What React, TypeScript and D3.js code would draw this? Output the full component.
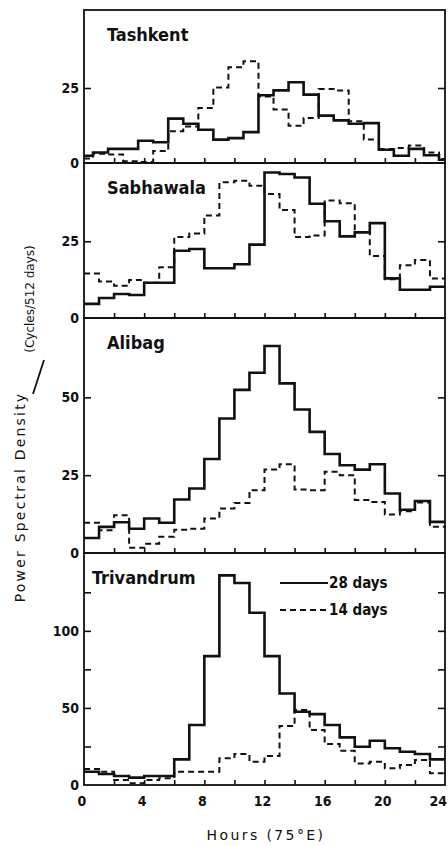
import React, { useEffect, useRef } from 'react'
import * as d3 from 'd3'

const width = 448
const height = 846
const left = 84
const right = 445
const ink = '#111'
const font = "'DejaVu Sans Condensed', 'DejaVu Sans', sans-serif"

// hour axis
const hourLabels = [0, 4, 8, 12, 16, 20, 24]
const hourMinor = d3.range(2, 24, 2)

// Tashkent bins start 0.4 h early (local meridian)
const tashkentShift = -0.4
const tashkent28 = [2.4, 3.5, 4.7, 4.7, 7.4, 6.9, 14.8, 13.1, 11.1, 7.8, 8.3, 10.3, 22.6, 24.2, 26.9, 22.8, 15.8, 14.2, 13.1, 13.3, 4.4, 2.4, 4.7, 2.6, 1.1]
const tashkent14 = [1.5, 3.1, 2.8, 0.6, 0.3, 4.0, 10.6, 12.2, 18.3, 25.2, 31.9, 33.9, 22.2, 17.8, 12.4, 15.0, 24.7, 24.2, 13.9, 7.8, 4.7, 5.0, 5.8, 3.5, 1.3]

const sabhawala28 = [4.6, 6.5, 7.8, 7.5, 11.5, 11.5, 21.9, 22.5, 16.2, 16.2, 17.5, 23.9, 47.4, 46.9, 45.8, 37.2, 31.5, 26.6, 27.9, 30.9, 12.9, 9.2, 9.2, 10.2]
const sabhawala14 = [14.5, 11.9, 10.5, 12.4, 11.5, 16.5, 26.4, 27.5, 33.4, 44.2, 44.7, 43.1, 40.4, 35.2, 26.4, 26.9, 38.3, 37.4, 28.0, 20.2, 12.6, 17.2, 18.9, 12.9]

const alibag28 = [4.8, 8.4, 9.9, 7.8, 11.1, 9.7, 17.2, 20.7, 30.2, 43.2, 52.4, 57.9, 66.5, 54.5, 46.1, 38.9, 31.8, 28.2, 26.8, 28.5, 19.1, 13.9, 16.7, 10.0]
const alibag14 = [9.7, 7.3, 12.1, 1.7, 3.0, 5.2, 7.5, 7.8, 11.1, 14.3, 16.1, 20.2, 26.8, 28.5, 20.4, 20.2, 26.1, 25.0, 17.0, 16.4, 12.4, 13.4, 16.2, 8.4]

const trivandrum28 = [8.6, 7.1, 5.8, 4.8, 5.8, 5.8, 16.6, 38.9, 83.6, 136, 131, 111.7, 83.6, 59.4, 47.5, 46.0, 38.9, 30.9, 24.8, 28.7, 23.8, 21.6, 20.1, 16.6]
const trivandrum14 = [10.4, 8.6, 3.2, 1.1, 3.2, 4.3, 8.6, 8.6, 8.6, 17.3, 20.1, 15.1, 18.8, 38.2, 48.6, 35.6, 26.6, 22.2, 14.0, 15.1, 10.8, 13.0, 16.2, 7.6]

const legendLabels = ['28 days', '14 days']

const panels = [
  { name: 'Tashkent', top: 10, bottom: 163, max: 51, shift: tashkentShift, ticks: [25], labels: [0, 25], solid: tashkent28, dashed: tashkent14 },
  { name: 'Sabhawala', top: 163, bottom: 318, max: 50.5, shift: 0, ticks: [25], labels: [0, 25], solid: sabhawala28, dashed: sabhawala14 },
  { name: 'Alibag', top: 318, bottom: 553, max: 75.5, shift: 0, ticks: [25, 50], labels: [0, 25, 50], solid: alibag28, dashed: alibag14 },
  { name: 'Trivandrum', top: 553, bottom: 785, max: 150.5, shift: 0, ticks: [25, 50, 75, 100, 125], labels: [0, 50, 100], solid: trivandrum28, dashed: trivandrum14 },
]

const App = () => {
  const ref = useRef<SVGSVGElement>(null)

  useEffect(() => {
    if (!ref.current) return
    const svg = d3.select(ref.current)
    svg.selectAll('*').remove()

    const x = d3.scaleLinear().domain([0, 24]).range([left, right]).clamp(true)

    panels.forEach((p, k) => {
      const y = d3.scaleLinear().domain([0, p.max]).range([p.bottom, p.top])
      const g = svg.append('g')

      // step histograms
      const steps = (vals: number[]) => {
        const pts: [number, number][] = vals.map((v, i) => [p.shift + i, v])
        pts.push([p.shift + vals.length, vals[vals.length - 1]])
        return pts
      }
      const line = d3.line<[number, number]>()
        .x(d => x(d[0]))
        .y(d => y(d[1]))
        .curve(d3.curveStepAfter)

      g.append('path')
        .attr('d', line(steps(p.dashed)))
        .attr('fill', 'none')
        .attr('stroke', ink)
        .attr('stroke-width', 2)
        .attr('stroke-dasharray', '6,4')
      g.append('path')
        .attr('d', line(steps(p.solid)))
        .attr('fill', 'none')
        .attr('stroke', ink)
        .attr('stroke-width', 2.6)

      // frame
      g.append('rect')
        .attr('x', left).attr('y', p.top)
        .attr('width', right - left).attr('height', p.bottom - p.top)
        .attr('fill', 'none').attr('stroke', ink).attr('stroke-width', 1.8)

      // inward ticks
      g.append('g')
        .attr('transform', `translate(0,${p.bottom})`)
        .call(d3.axisBottom(x).tickValues(hourMinor).tickSize(-5).tickFormat(() => ''))
        .call(a => a.select('.domain').remove())
      g.append('g')
        .attr('transform', `translate(${left},0)`)
        .call(d3.axisLeft(y).tickValues(p.ticks).tickSize(-7).tickFormat(() => ''))
        .call(a => a.select('.domain').remove())
      g.append('g')
        .attr('transform', `translate(${right},0)`)
        .call(d3.axisRight(y).tickValues(p.ticks).tickSize(-7).tickFormat(() => ''))
        .call(a => a.select('.domain').remove())
      g.selectAll('.tick line').attr('stroke', ink).attr('stroke-width', 1.6)

      // value labels
      g.selectAll('.vlab')
        .data(p.labels)
        .enter()
        .append('text')
        .attr('x', left - 5)
        .attr('y', d => y(d))
        .attr('dy', '0.36em')
        .attr('text-anchor', 'end')
        .attr('font-family', font)
        .attr('font-weight', 'bold')
        .attr('font-size', 14)
        .attr('fill', ink)
        .text(d => d)

      // station name
      g.append('text')
        .attr('x', k === 3 ? 92 : 107)
        .attr('y', p.top + 31)
        .attr('font-family', font)
        .attr('font-weight', 'bold')
        .attr('font-size', 18)
        .attr('fill', ink)
        .text(p.name)
    })

    // hour labels (last one pulled in so it stays on the page)
    const last = panels[panels.length - 1]
    svg.append('g')
      .selectAll('text')
      .data(hourLabels)
      .enter()
      .append('text')
      .attr('x', d => (d === 24 ? width - 1 : x(d) - 2))
      .attr('y', last.bottom + 21)
      .attr('text-anchor', d => (d === 24 ? 'end' : 'middle'))
      .attr('font-family', font)
      .attr('font-weight', 'bold')
      .attr('font-size', 14)
      .attr('fill', ink)
      .text(d => d)

    svg.append('text')
      .attr('x', 266)
      .attr('y', 840)
      .attr('text-anchor', 'middle')
      .attr('font-family', "'DejaVu Sans', sans-serif")
      .attr('font-size', 14)
      .attr('letter-spacing', 2.4)
      .attr('fill', ink)
      .text('Hours (75°E)')

    // legend
    const leg = svg.append('g').attr('transform', 'translate(280,583)')
    legendLabels.forEach((t, i) => {
      leg.append('line')
        .attr('x1', 0).attr('x2', 48)
        .attr('y1', i * 27).attr('y2', i * 27)
        .attr('stroke', ink)
        .attr('stroke-width', 2)
        .attr('stroke-dasharray', i === 0 ? null : '6,4')
      leg.append('text')
        .attr('x', 49)
        .attr('y', i * 27)
        .attr('dy', '0.36em')
        .attr('font-family', font)
        .attr('font-weight', 'bold')
        .attr('font-size', 15)
        .attr('fill', ink)
        .text(t)
    })

    // y title
    svg.append('text')
      .attr('transform', 'translate(25,497) rotate(-90)')
      .attr('text-anchor', 'middle')
      .attr('font-family', "'DejaVu Sans', sans-serif")
      .attr('font-size', 14)
      .attr('letter-spacing', 2.2)
      .attr('fill', ink)
      .text('Power Spectral Density')
    svg.append('line')
      .attr('x1', 33).attr('y1', 394)
      .attr('x2', 44).attr('y2', 360)
      .attr('stroke', ink).attr('stroke-width', 1.8)
    svg.append('text')
      .attr('transform', 'translate(34,299) rotate(-90)')
      .attr('text-anchor', 'middle')
      .attr('font-family', "'DejaVu Sans', sans-serif")
      .attr('font-size', 12)
      .attr('fill', ink)
      .text('(Cycles/512 days)')
  }, [])

  return (
    <svg
      ref={ref}
      width={width}
      height={height}
      style={{ position: 'absolute', left: 0, top: 0, background: '#fff' }}
    ></svg>
  )
}

export default App
